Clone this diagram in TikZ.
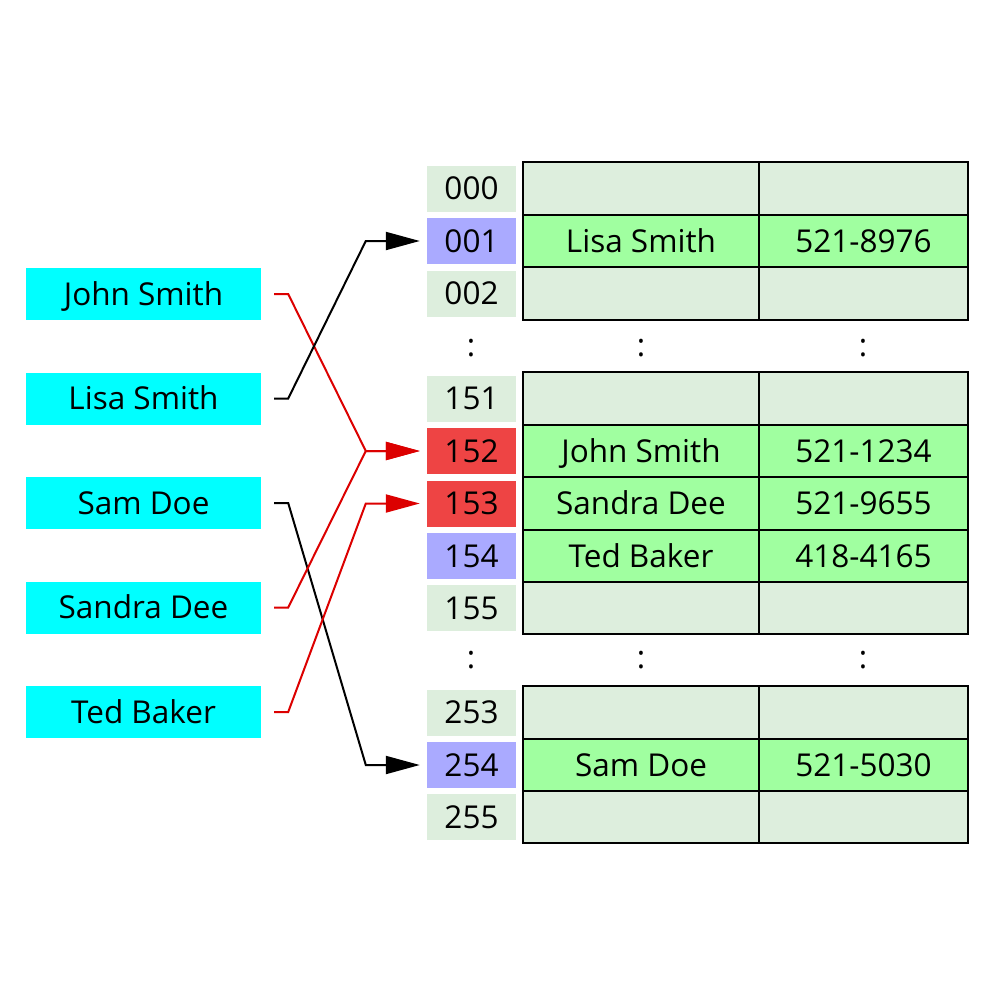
\documentclass[tikz,border=0pt]{standalone}
\usepackage{fontspec}
\setmainfont{Open Sans}
\usetikzlibrary{arrows.meta}
\definecolor{cellpale}{RGB}{221,238,221}
\definecolor{cellfull}{RGB}{160,255,160}
\definecolor{idxblue}{RGB}{170,170,255}
\definecolor{idxred}{RGB}{238,68,68}
\definecolor{namecyan}{RGB}{0,255,255}
\definecolor{linkred}{RGB}{220,0,0}
\tikzset{
  every node/.style={font=\fontsize{31.5}{38}\selectfont, inner sep=0pt, text height=22.5pt, text depth=0pt},
  namebox/.style={fill=namecyan, minimum width=235pt, minimum height=52pt},
  idxbox/.style={minimum width=89pt, minimum height=46pt},
  cellA/.style={draw=black, line width=2pt, minimum width=236pt, minimum height=52.3pt},
  cellB/.style={draw=black, line width=2pt, minimum width=209pt, minimum height=52.3pt},
  link/.style={line width=2pt, -{Triangle[length=34pt,width=18pt]}},
  dotsnode/.style={text height=16pt}
}
\begin{document}
\begin{tikzpicture}[x=1pt,y=-1pt]
\useasboundingbox (0,0) rectangle (996,996);
% names
\node[namebox] (john) at (143.5,294) {John Smith};
\node[namebox] (lisa) at (143.5,398.5) {Lisa Smith};
\node[namebox] (sam) at (143.5,503) {Sam Doe};
\node[namebox] (sandra) at (143.5,607.5) {Sandra Dee};
\node[namebox] (ted) at (143.5,712) {Ted Baker};
% rows: id/y/indexcolor/cellcolor/name/phone
\foreach \id/\y/\ic/\cc/\nm/\ph in {
  000/188.5/cellpale/cellpale//,
  001/241/idxblue/cellfull/Lisa Smith/521-8976,
  002/293.5/cellpale/cellpale//,
  151/398.5/cellpale/cellpale//,
  152/451/idxred/cellfull/John Smith/521-1234,
  153/503.5/idxred/cellfull/Sandra Dee/521-9655,
  154/556/idxblue/cellfull/Ted Baker/418-4165,
  155/608/cellpale/cellpale//,
  253/712.5/cellpale/cellpale//,
  254/765/idxblue/cellfull/Sam Doe/521-5030,
  255/817/cellpale/cellpale//}{
  \node[idxbox, fill=\ic] (i\id) at (471.5,\y) {\id};
  \node[cellA, fill=\cc] (n\id) at (641,\y) {\nm};
  \node[cellB, fill=\cc] (p\id) at (863.5,\y) {\ph};
}
% ellipses
\foreach \yy/\k in {348/a,660/b}{
  \node[dotsnode] (da\k) at (471,\yy) {:};
  \node[dotsnode] (db\k) at (641,\yy) {:};
  \node[dotsnode] (dc\k) at (863,\yy) {:};
}
% links
\draw[link, linkred] ([xshift=13]john.east) -- ++(14,0) -- ([xshift=-61]i152.west) -- ([xshift=-7]i152.west);
\draw[link, black] ([xshift=13]lisa.east) -- ++(14,0) -- ([xshift=-61]i001.west) -- ([xshift=-7]i001.west);
\draw[link, black] ([xshift=13]sam.east) -- ++(14,0) -- ([xshift=-61]i254.west) -- ([xshift=-7]i254.west);
\draw[link, linkred] ([xshift=13]sandra.east) -- ++(14,0) -- ([xshift=-61]i152.west) -- ([xshift=-7]i152.west);
\draw[link, linkred] ([xshift=13]ted.east) -- ++(14,0) -- ([xshift=-61]i153.west) -- ([xshift=-7]i153.west);
\end{tikzpicture}
\end{document}
